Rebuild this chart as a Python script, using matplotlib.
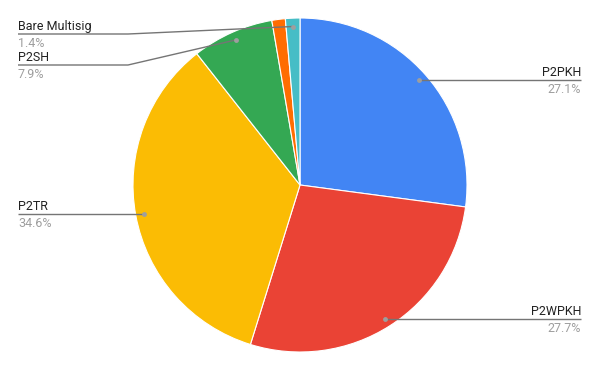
import numpy as np
import matplotlib
matplotlib.use("Agg")
import matplotlib.pyplot as plt

plt.rcParams['font.family'] = ['Roboto', 'DejaVu Sans']

# data (clockwise from 12 o'clock)
categories = ['P2PKH', 'P2WPKH', 'P2TR', 'P2SH', '', 'Bare Multisig']
shares = [27.1, 27.7, 34.6, 7.9, 1.3, 1.4]
colors = ['#4285F4', '#EA4335', '#FBBC04', '#34A853', '#FF6D01', '#46BDC6']

W, H = 600, 371
CX, CY, R = 300, 185, 167

# where the horizontal part of each leader line sits (px from top), None = at the dot
label_y = {'P2PKH': None, 'P2WPKH': None, 'P2TR': None, 'P2SH': 65, 'Bare Multisig': 34}
ELBOW_X = 128
LEFT_X, RIGHT_X = 18, 581

fig = plt.figure(figsize=(W / 100, H / 100), dpi=100)
ax = fig.add_axes([0, 0, 1, 1])

wedges, _ = ax.pie(shares, colors=colors, startangle=90, counterclock=False,
                   center=(CX, H - CY), radius=R,
                   wedgeprops=dict(edgecolor='white', linewidth=0.8))

# pie() sets its own limits, so override afterwards
ax.set_xlim(0, W)
ax.set_ylim(0, H)
ax.set_aspect('equal')
ax.axis('off')

for w, name, val in zip(wedges, categories, shares):
    if not name:
        continue
    mid = np.deg2rad((w.theta1 + w.theta2) / 2)
    dx = CX + 0.95 * R * np.cos(mid)
    dy = (H - CY) + 0.95 * R * np.sin(mid)
    ly = dy if label_y[name] is None else H - label_y[name]
    if np.cos(mid) >= 0:
        xs, ys = [dx, RIGHT_X], [ly, ly]
        tx, ha = RIGHT_X, 'right'
    else:
        if label_y[name] is None:
            xs, ys = [dx, LEFT_X], [ly, ly]
        else:
            xs, ys = [dx, ELBOW_X, LEFT_X], [dy, ly, ly]
        tx, ha = LEFT_X, 'left'
    ax.plot(xs, ys, color='#757575', lw=1, solid_capstyle='butt', zorder=3)
    ax.plot([dx], [dy], 'o', color='#9E9E9E', ms=3.5, mec='none', zorder=4)
    ax.text(tx, ly + 4, name, ha=ha, va='baseline', fontsize=9, color='#222222')
    ax.text(tx, ly - 13, f'{val:.1f}%', ha=ha, va='baseline', fontsize=9, color='#9E9E9E')

fig.savefig('out.png', dpi=100)
